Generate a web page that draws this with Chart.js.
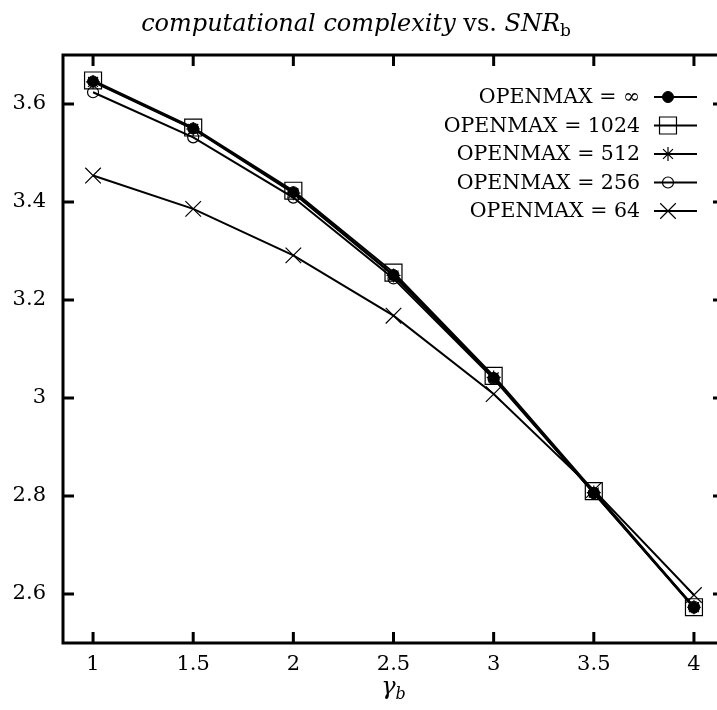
<!DOCTYPE html>
<html>
<head>
<meta charset="utf-8">
<script src="https://cdn.jsdelivr.net/npm/chart.js@4.4.1/dist/chart.umd.min.js"></script>
<style>
  html, body { margin: 0; padding: 0; background: #fff; overflow: hidden; }
  #wrap { position: relative; width: 740px; height: 710px; }
</style>
</head>
<body>
<div id="wrap"><canvas id="c" width="740" height="710"></canvas></div>
<script>
// gamma_b values on the horizontal axis
const gammaB = [1, 1.5, 2, 2.5, 3, 3.5, 4];

// computational complexity for each OPENMAX setting
const openmaxInf  = [3.646, 3.550, 3.420, 3.251, 3.041, 2.806, 2.572];
const openmax1024 = [3.648, 3.552, 3.423, 3.256, 3.045, 2.810, 2.573];
const openmax512  = [3.645, 3.549, 3.418, 3.250, 3.042, 2.807, 2.573];
const openmax256  = [3.624, 3.532, 3.409, 3.244, 3.039, 2.806, 2.574];
const openmax64   = [3.454, 3.386, 3.291, 3.168, 3.008, 2.812, 2.598];

const seriesLabels = ['OPENMAX = \u221E', 'OPENMAX = 1024', 'OPENMAX = 512', 'OPENMAX = 256', 'OPENMAX = 64'];

const xTicks = [1, 1.5, 2, 2.5, 3, 3.5, 4];
const yTicks = [2.6, 2.8, 3, 3.2, 3.4, 3.6];

const SERIF = '"DejaVu Serif", "Liberation Serif", serif';

const toPoints = ys => ys.map((y, i) => ({ x: gammaB[i], y }));

const markers = [
  { pointStyle: 'circle',   pointRadius: 5.5, pointBackgroundColor: '#000',          pointBorderWidth: 1 },
  { pointStyle: 'rect',     pointRadius: 12,  pointBackgroundColor: 'rgba(0,0,0,0)', pointBorderWidth: 1.2 },
  { pointStyle: 'star',     pointRadius: 7,   pointBackgroundColor: 'rgba(0,0,0,0)', pointBorderWidth: 1.2 },
  { pointStyle: 'circle',   pointRadius: 5.5, pointBackgroundColor: 'rgba(0,0,0,0)', pointBorderWidth: 1.2 },
  { pointStyle: 'crossRot', pointRadius: 11,  pointBackgroundColor: 'rgba(0,0,0,0)', pointBorderWidth: 1.2 }
];

const seriesValues = [openmaxInf, openmax1024, openmax512, openmax256, openmax64];

const datasets = seriesValues.map((vals, i) => Object.assign({
  label: seriesLabels[i],
  data: toPoints(vals),
  borderColor: '#000',
  borderWidth: 2,
  pointBorderColor: '#000',
  pointHoverRadius: markers[i].pointRadius,
  tension: 0,
  fill: false
}, markers[i]));

const fmt = v => String(Number(Number(v).toFixed(2)));

// Frame with inward ticks on all four sides
const framePlugin = {
  id: 'frame',
  afterDatasetsDraw(chart) {
    const { ctx, chartArea: a, scales } = chart;
    const len = 11;
    ctx.save();
    ctx.strokeStyle = '#000';
    ctx.lineWidth = 3;
    ctx.lineCap = 'butt';
    ctx.beginPath();
    scales.x.ticks.forEach(t => {
      const px = scales.x.getPixelForValue(t.value);
      ctx.moveTo(px, a.bottom); ctx.lineTo(px, a.bottom - len);
      ctx.moveTo(px, a.top);    ctx.lineTo(px, a.top + len);
    });
    scales.y.ticks.forEach(t => {
      const py = scales.y.getPixelForValue(t.value);
      ctx.moveTo(a.left, py);  ctx.lineTo(a.left + len, py);
      ctx.moveTo(a.right, py); ctx.lineTo(a.right - len, py);
    });
    ctx.stroke();
    ctx.strokeRect(a.left, a.top, a.right - a.left, a.bottom - a.top);
    ctx.restore();
  }
};

// Key in the upper right: label, line sample and marker
const keyPlugin = {
  id: 'key',
  afterDraw(chart) {
    const { ctx } = chart;
    const textRight = 640, lineL = 654, lineR = 697, markX = 668;
    const top = 97, step = 28.5;
    ctx.save();
    ctx.font = '20.5px ' + SERIF;
    ctx.textAlign = 'right';
    ctx.textBaseline = 'middle';
    chart.data.datasets.forEach((ds, i) => {
      const y = top + i * step;
      ctx.fillStyle = '#000';
      ctx.fillText(ds.label, textRight, y + 1);
      ctx.strokeStyle = '#000';
      ctx.lineWidth = 2;
      ctx.beginPath();
      ctx.moveTo(lineL, y); ctx.lineTo(lineR, y);
      ctx.stroke();
      ctx.fillStyle = ds.pointBackgroundColor;
      ctx.lineWidth = ds.pointBorderWidth;
      Chart.helpers.drawPoint(ctx, {
        pointStyle: ds.pointStyle, radius: ds.pointRadius, rotation: 0, borderWidth: ds.pointBorderWidth
      }, markX, y);
    });
    ctx.restore();
  }
};

// Title and horizontal axis caption with mixed italic/upright pieces
function drawRuns(ctx, runs, cx, baseline) {
  let total = 0;
  runs.forEach(r => { ctx.font = r.font; r.w = ctx.measureText(r.text).width; total += r.w; });
  let x = cx - total / 2;
  ctx.textAlign = 'left';
  ctx.textBaseline = 'alphabetic';
  runs.forEach(r => {
    ctx.font = r.font;
    ctx.fillText(r.text, x, baseline + (r.dy || 0));
    x += r.w;
  });
}

const captionPlugin = {
  id: 'captions',
  afterDraw(chart) {
    const { ctx, chartArea: a } = chart;
    ctx.save();
    ctx.fillStyle = '#000';
    drawRuns(ctx, [
      { text: 'computational complexity', font: 'italic 24px ' + SERIF },
      { text: ' vs. ', font: '24px ' + SERIF },
      { text: 'SNR', font: 'italic 24px ' + SERIF },
      { text: 'b', font: '17px ' + SERIF, dy: 5 }
    ], 356, 31);
    drawRuns(ctx, [
      { text: '\u03B3', font: 'italic 24px ' + SERIF },
      { text: 'b', font: 'italic 16px ' + SERIF, dy: 5 }
    ], (a.left + a.right) / 2, 694);
    ctx.restore();
  }
};

new Chart(document.getElementById('c'), {
  type: 'line',
  data: { datasets },
  options: {
    responsive: false,
    animation: false,
    devicePixelRatio: 1,
    layout: { padding: { top: 55, right: 16, left: 0, bottom: 0 } },
    plugins: {
      legend: { display: false },
      title: { display: false },
      tooltip: { enabled: false }
    },
    scales: {
      x: {
        type: 'linear',
        min: 0.85,
        max: 4.15,
        afterBuildTicks: s => { s.ticks = xTicks.map(v => ({ value: v })); },
        afterFit: s => { s.height = 67; },
        grid: { display: false, drawTicks: false },
        border: { display: false },
        ticks: {
          padding: 9,
          color: '#000',
          font: { family: SERIF, size: 21 },
          callback: v => fmt(v),
          maxRotation: 0
        }
      },
      y: {
        type: 'linear',
        min: 2.5,
        max: 3.7,
        afterBuildTicks: s => { s.ticks = yTicks.map(v => ({ value: v })); },
        afterFit: s => { s.width = 63; },
        grid: { display: false, drawTicks: false },
        border: { display: false },
        ticks: {
          padding: 17,
          color: '#000',
          font: { family: SERIF, size: 21 },
          callback: v => fmt(v)
        }
      }
    }
  },
  plugins: [framePlugin, keyPlugin, captionPlugin]
});
</script>
</body>
</html>
